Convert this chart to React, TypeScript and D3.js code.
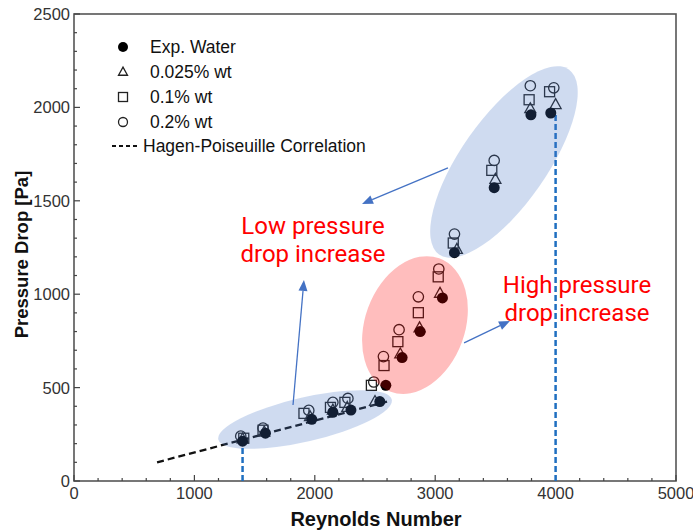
import React from "react";
import * as d3 from "d3";

// ---- data ----
const waterRe = [1400, 1590, 1975, 2150, 2300, 2540, 2590, 2725, 2875, 3060, 3160, 3490, 3795, 3960];
const waterDp = [213, 256, 330, 368, 380, 425, 512, 661, 800, 980, 1222, 1570, 1960, 1970];

const tri025Re = [1400, 1580, 1960, 2150, 2270, 2500, 2710, 2870, 3040, 3180, 3500, 3790, 4000];
const tri025Dp = [225, 262, 345, 380, 394, 426, 680, 820, 1005, 1240, 1615, 1993, 2015];

const sq01Re = [1410, 1570, 1910, 2130, 2250, 2470, 2575, 2690, 2860, 3025, 3150, 3470, 3780, 3950];
const sq01Dp = [229, 272, 362, 394, 421, 512, 618, 746, 901, 1093, 1274, 1663, 2041, 2084];

const circ02Re = [1385, 1570, 1950, 2150, 2275, 2490, 2570, 2700, 2860, 3030, 3160, 3490, 3790, 3985];
const circ02Dp = [240, 283, 378, 421, 442, 530, 666, 810, 986, 1135, 1322, 1716, 2116, 2105];

const hpRe = [690, 2600];
const hpDp = [100, 425];

const transitionRe = [1400, 4000];
const transitionTopDp = [213, 1970];

const xTicks = [0, 1000, 2000, 3000, 4000, 5000];
const yTicks = [0, 500, 1000, 1500, 2000, 2500];

const legendLabels = ["Exp. Water", "0.025% wt", "0.1% wt", "0.2% wt", "Hagen-Poiseuille Correlation"];

const W = 693, H = 531;
const x = d3.scaleLinear().domain([0, 5000]).range([74, 676]);
const y = d3.scaleLinear().domain([0, 2500]).range([481, 14]);

const tickFont = "'Liberation Sans', Arial, sans-serif";
const BLUE = "#4472C4";

function Tri({ cx, cy, s }: { cx: number; cy: number; s: number }) {
  const h = s * 0.9;
  return (
    <path
      d={`M${cx},${cy - h * 0.6} L${cx + s / 2},${cy + h * 0.4} L${cx - s / 2},${cy + h * 0.4} Z`}
      fill="none"
      stroke="#222"
      strokeWidth={1.3}
    />
  );
}

function Arrow({ x1, y1, x2, y2 }: { x1: number; y1: number; x2: number; y2: number }) {
  const ang = Math.atan2(y2 - y1, x2 - x1);
  const L = 11, Wd = 4.5;
  const bx = x2 - L * Math.cos(ang), by = y2 - L * Math.sin(ang);
  const px = -Math.sin(ang) * Wd, py = Math.cos(ang) * Wd;
  return (
    <g>
      <line x1={x1} y1={y1} x2={bx} y2={by} stroke={BLUE} strokeWidth={1.3} />
      <path d={`M${x2},${y2} L${bx + px},${by + py} L${bx - px},${by - py} Z`} fill={BLUE} />
    </g>
  );
}

export default function App() {
  const xMinor = d3.range(0, 5001, 200);
  const yMinor = d3.range(0, 2501, 100);
  const hpLine = d3.line<number>().x((_, i) => x(hpRe[i])).y((d) => y(d));

  const ellipses = [
    { re: 1919, dp: 329, rx: 89, ry: 22, rot: -13, color: BLUE, op: 0.26 },
    { re: 2832, dp: 835, rx: 50, ry: 71, rot: 20, color: "#FF0000", op: 0.26 },
    { re: 3571, dp: 1708, rx: 43, ry: 113, rot: 35, color: BLUE, op: 0.26 },
  ];

  const arrows = [
    { r1: 3106, p1: 1676, r2: 2392, p2: 1483 },
    { r1: 1819, p1: 407, r2: 1910, p2: 1076 },
    { r1: 3240, p1: 739, r2: 3621, p2: 857 },
  ];

  const legendY = [47, 72, 97, 122, 146];

  return (
    <svg width={W} height={H} style={{ position: "absolute", left: 0, top: 0, background: "#fff" }}>
      {/* frame */}
      <rect x={74} y={14} width={602} height={467} fill="none" stroke="#555" strokeWidth={1.6} />
      {/* ticks */}
      {xMinor.map((v) => (
        <line key={"xm" + v} x1={x(v)} x2={x(v)} y1={481} y2={v % 1000 === 0 ? 475 : 478} stroke="#444" strokeWidth={1.2} />
      ))}
      {yMinor.map((v) => (
        <line key={"ym" + v} y1={y(v)} y2={y(v)} x1={74} x2={v % 500 === 0 ? 80 : 77} stroke="#444" strokeWidth={1.2} />
      ))}
      {xTicks.map((v) => (
        <text key={"xt" + v} x={x(v)} y={499} textAnchor="middle" fontFamily={tickFont} fontSize={16.5} fill="#333">
          {v}
        </text>
      ))}
      {yTicks.map((v) => (
        <text key={"yt" + v} x={70} y={y(v) + 6} textAnchor="end" fontFamily={tickFont} fontSize={16.5} fill="#333">
          {v}
        </text>
      ))}
      <text x={376} y={526} textAnchor="middle" fontFamily={tickFont} fontWeight="bold" fontSize={20} fill="#111">
        Reynolds Number
      </text>
      <text
        transform={`translate(28,${(14 + 481) / 2 + 7}) rotate(-90)`}
        textAnchor="middle"
        fontFamily={tickFont}
        fontWeight="bold"
        fontSize={18.5}
        fill="#111"
      >
        Pressure Drop [Pa]
      </text>

      {/* Hagen-Poiseuille */}
      <path d={hpLine(hpDp) || ""} fill="none" stroke="#111" strokeWidth={2.3} strokeDasharray="7,4" />

      {/* transition lines */}
      {transitionRe.map((r, i) => (
        <line
          key={"tr" + r}
          x1={x(r)}
          x2={x(r)}
          y1={y(0)}
          y2={y(transitionTopDp[i])}
          stroke="#1F6FC0"
          strokeWidth={2.5}
          strokeDasharray="6,3"
        />
      ))}

      {/* markers */}
      {circ02Re.map((r, i) => (
        <circle key={"c" + i} cx={x(r)} cy={y(circ02Dp[i])} r={5.2} fill="none" stroke="#222" strokeWidth={1.3} />
      ))}
      {sq01Re.map((r, i) => (
        <rect key={"s" + i} x={x(r) - 5} y={y(sq01Dp[i]) - 5} width={10} height={10} fill="none" stroke="#222" strokeWidth={1.3} />
      ))}
      {tri025Re.map((r, i) => (
        <Tri key={"t" + i} cx={x(r)} cy={y(tri025Dp[i])} s={11} />
      ))}
      {waterRe.map((r, i) => (
        <circle key={"w" + i} cx={x(r)} cy={y(waterDp[i])} r={5.5} fill="#000" />
      ))}

      {/* ellipses */}
      {ellipses.map((e, i) => (
        <ellipse
          key={"e" + i}
          cx={0}
          cy={0}
          rx={e.rx}
          ry={e.ry}
          transform={`translate(${x(e.re)},${y(e.dp)}) rotate(${e.rot})`}
          fill={e.color}
          fillOpacity={e.op}
        />
      ))}

      {/* arrows */}
      {arrows.map((a, i) => (
        <Arrow key={"a" + i} x1={x(a.r1)} y1={y(a.p1)} x2={x(a.r2)} y2={y(a.p2)} />
      ))}

      {/* annotations */}
      <g fontFamily="Roboto, 'Liberation Sans', sans-serif" fontSize={24} fill="#FF0000" textAnchor="middle">
        <text x={313} y={234}>Low pressure</text>
        <text x={313} y={262}>drop increase</text>
        <text x={577} y={293}>High pressure</text>
        <text x={577} y={321}>drop increase</text>
      </g>

      {/* legend */}
      <g fontFamily={tickFont} fontSize={17.5} fill="#111">
        <circle cx={123} cy={legendY[0]} r={5} fill="#000" />
        <Tri cx={123} cy={legendY[1]} s={9} />
        <rect x={118.5} y={legendY[2] - 4.5} width={9} height={9} fill="none" stroke="#222" strokeWidth={1.3} />
        <circle cx={123} cy={legendY[3]} r={4.5} fill="none" stroke="#222" strokeWidth={1.3} />
        <line x1={112} x2={137} y1={legendY[4]} y2={legendY[4]} stroke="#111" strokeWidth={1.8} strokeDasharray="4,3" />
        {legendLabels.map((l, i) => (
          <text key={l} x={i === 4 ? 143 : 150} y={legendY[i] + 6}>
            {l}
          </text>
        ))}
      </g>
    </svg>
  );
}
